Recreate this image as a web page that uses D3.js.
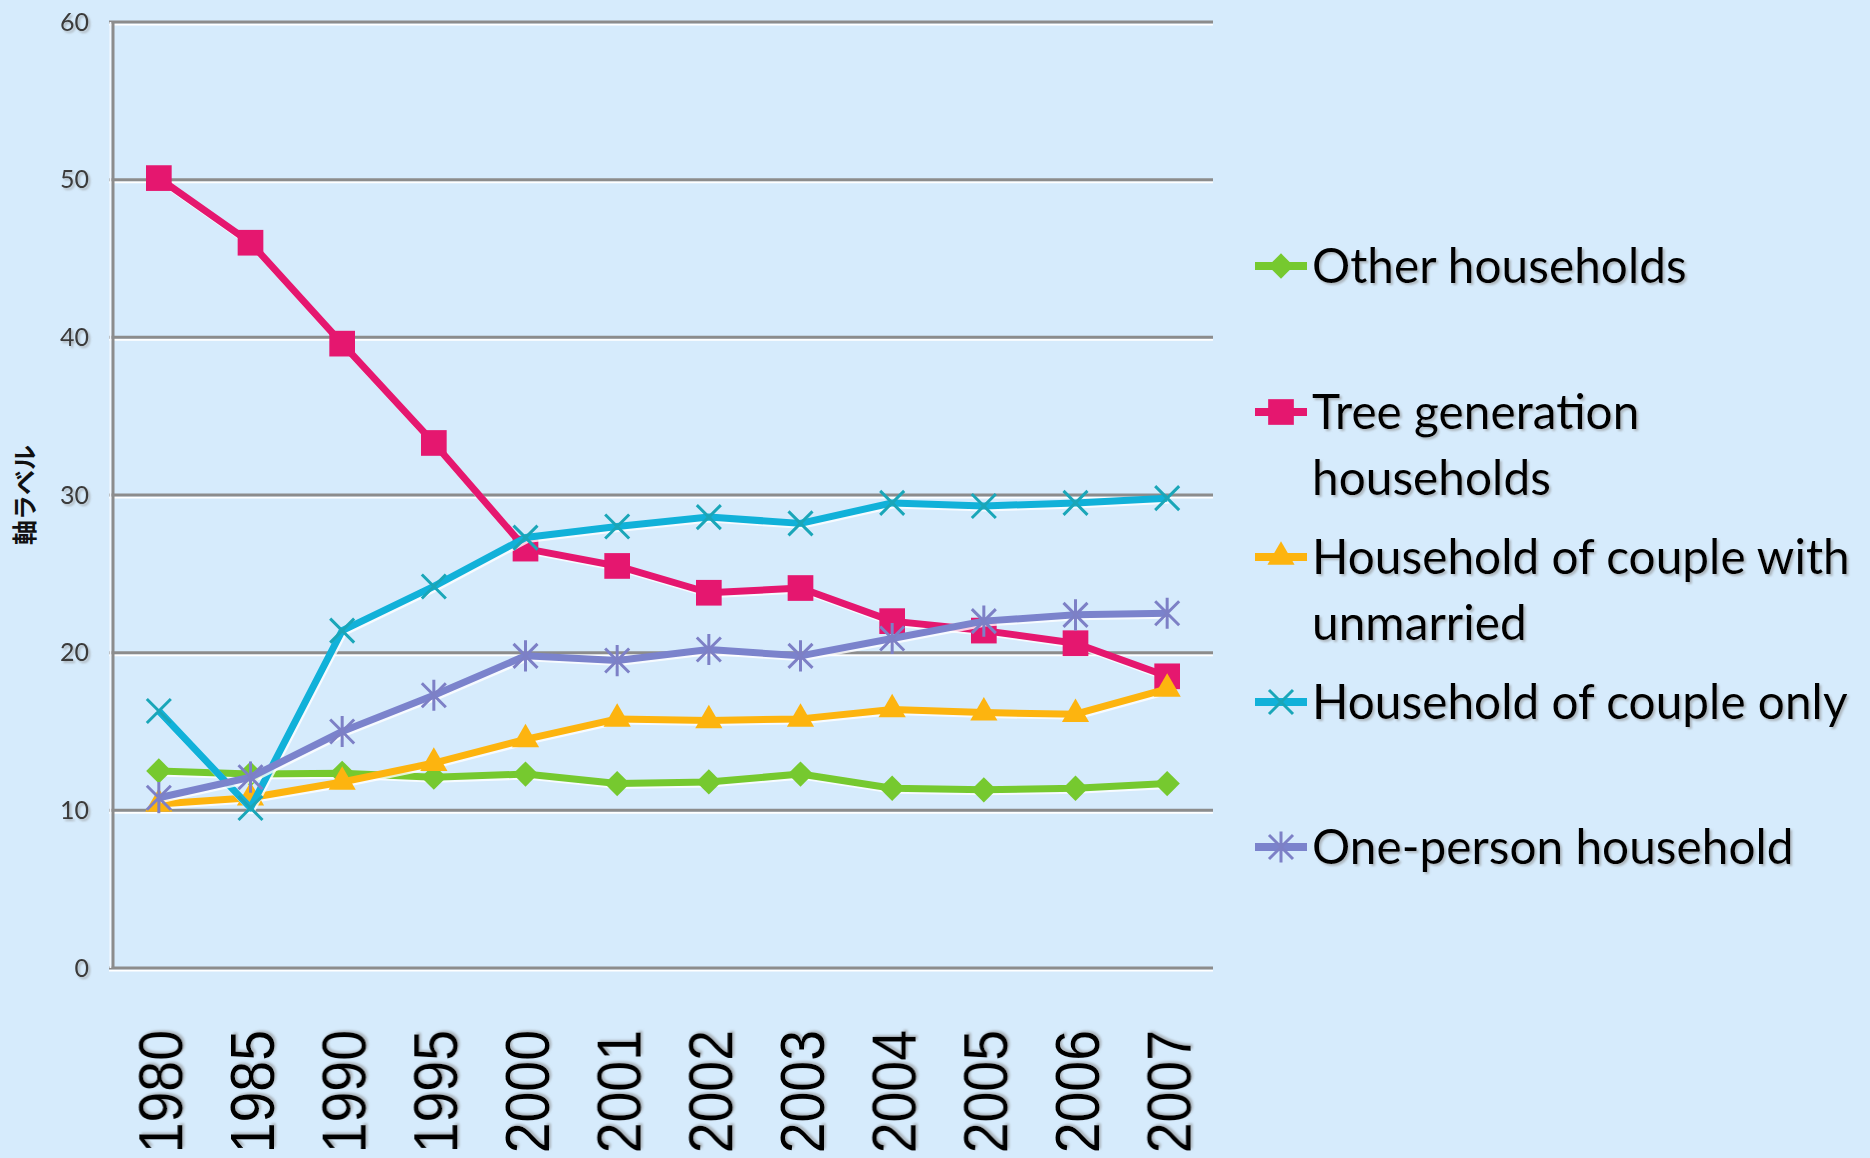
<!DOCTYPE html>
<html>
<head>
<meta charset="utf-8">
<script src="https://cdn.jsdelivr.net/npm/d3@7"></script>
<style>
    html, body { margin: 0; padding: 0; background: #d6ebfc; }
    svg { display: block; }
</style>
</head>
<body>
<div id="chart"></div>
<script>
// Household composition chart - share of households by type, 1980-2007

const years = ["1980", "1985", "1990", "1995", "2000", "2001", "2002", "2003", "2004", "2005", "2006", "2007"];
const yTicks = [0, 10, 20, 30, 40, 50, 60];

const otherHouseholds = [12.5, 12.3, 12.35, 12.1, 12.3, 11.7, 11.8, 12.3, 11.4, 11.3, 11.4, 11.7];
const threeGeneration = [50.1, 46.0, 39.6, 33.3, 26.6, 25.5, 23.8, 24.1, 22.0, 21.4, 20.6, 18.5];
const coupleWithUnmarried = [10.4, 10.8, 11.8, 13.0, 14.5, 15.8, 15.7, 15.8, 16.4, 16.2, 16.1, 17.7];
const coupleOnly = [16.3, 10.15, 21.4, 24.2, 27.3, 28.0, 28.6, 28.2, 29.5, 29.3, 29.5, 29.8];
const onePerson = [10.8, 12.1, 15.0, 17.3, 19.8, 19.5, 20.2, 19.8, 20.9, 22.0, 22.4, 22.5];

const seriesNames = [
    ["Other households"],
    ["Tree generation", "households"],
    ["Household of couple with", "unmarried"],
    ["Household of couple only"],
    ["One-person household"]
];
const yAxisTitle = "軸ラベル";

// Chart configuration
const CONFIG = {
    width: 1870,
    height: 1158,
    margin: { top: 22, right: 657, bottom: 190, left: 113 },
    get chartWidth() { return this.width - this.margin.left - this.margin.right; },
    get chartHeight() { return this.height - this.margin.top - this.margin.bottom; }
};

const SERIES = [
    { values: otherHouseholds, color: "#76c92f", markerColor: "#76c92f", marker: "diamond" },
    { values: threeGeneration, color: "#e5176f", markerColor: "#e5176f", marker: "square" },
    { values: coupleWithUnmarried, color: "#fdb40f", markerColor: "#fdb40f", marker: "triangle" },
    { values: coupleOnly, color: "#11b1d9", markerColor: "#1aa6b8", marker: "x" },
    { values: onePerson, color: "#7b83cc", markerColor: "#7d80c6", marker: "star" }
];

/**
 * Build the path for one marker, centred on 0,0
 * @param {string} type - Marker type
 * @returns {string} path data
 */
function markerPath(type) {
    if (type === "square") return d3.symbol(d3.symbolSquare, 660)();
    if (type === "triangle") return d3.symbol(d3.symbolTriangle, 320)();
    if (type === "diamond") return d3.symbol(d3.symbolSquare, 320)();
    const r = 12;
    const p = d3.path();
    p.moveTo(-r, -r); p.lineTo(r, r);
    p.moveTo(-r, r); p.lineTo(r, -r);
    if (type === "star") { p.moveTo(0, -r * 1.3); p.lineTo(0, r * 1.3); }
    return p.toString();
}

/**
 * Draw a marker into a group
 */
function drawMarker(g, s, x, y) {
    const filled = s.marker === "square" || s.marker === "triangle" || s.marker === "diamond";
    const m = g.append("path")
        .attr("d", markerPath(s.marker))
        .attr("transform", `translate(${x},${y})` + (s.marker === "diamond" ? " rotate(45)" : ""));
    if (filled) {
        m.attr("fill", s.markerColor);
    } else {
        m.attr("fill", "none")
            .attr("stroke", s.markerColor)
            .attr("stroke-width", 3);
    }
}

function renderChart() {
    const { margin, width, height, chartWidth, chartHeight } = CONFIG;

    const svg = d3.select("#chart")
        .append("svg")
        .attr("width", width)
        .attr("height", height)
        .style("background", "#d6ebfc");

    const defs = svg.append("defs");
    defs.append("filter")
        .attr("id", "textShadow")
        .attr("x", "-10%").attr("y", "-10%")
        .attr("width", "130%").attr("height", "130%")
        .append("feDropShadow")
        .attr("dx", 2).attr("dy", 2)
        .attr("stdDeviation", 1)
        .attr("flood-color", "#8a8a8a")
        .attr("flood-opacity", 0.55);

    const g = svg.append("g")
        .attr("transform", `translate(${margin.left},${margin.top})`);

    // Scales
    const x = d3.scalePoint()
        .domain(years)
        .range([0, chartWidth])
        .padding(0.5);

    const y = d3.scaleLinear()
        .domain([0, 60])
        .range([chartHeight, 0]);

    // Grid lines with a light highlight underneath
    const grid = g.append("g").attr("class", "grid");
    grid.selectAll(".grid-light")
        .data(yTicks)
        .join("line")
        .attr("x1", -4).attr("x2", chartWidth)
        .attr("y1", d => y(d) + 2.5).attr("y2", d => y(d) + 2.5)
        .attr("stroke", "#ffffff")
        .attr("stroke-width", 2);
    grid.selectAll(".grid-line")
        .data(yTicks)
        .join("line")
        .attr("x1", -4).attr("x2", chartWidth)
        .attr("y1", d => y(d)).attr("y2", d => y(d))
        .attr("stroke", "#8c8c8c")
        .attr("stroke-width", 3);

    // Y axis line
    g.append("line")
        .attr("x1", -2.5).attr("x2", -2.5)
        .attr("y1", 0).attr("y2", chartHeight)
        .attr("stroke", "#f4f9ff")
        .attr("stroke-width", 2);
    g.append("line")
        .attr("x1", 0).attr("x2", 0)
        .attr("y1", 0).attr("y2", chartHeight)
        .attr("stroke", "#8c8c8c")
        .attr("stroke-width", 3);

    // Y axis labels
    const yAxis = g.append("g")
        .call(d3.axisLeft(y).tickValues(yTicks).tickSize(0).tickPadding(24));
    yAxis.select(".domain").remove();
    yAxis.selectAll("text")
        .attr("font-family", "Lato, 'Open Sans', sans-serif")
        .attr("font-size", 25)
        .attr("fill", "#3a3a3a")
        .attr("filter", "url(#textShadow)");

    // X axis labels, rotated
    const xAxis = g.append("g")
        .attr("transform", `translate(0,${chartHeight})`)
        .call(d3.axisBottom(x).tickSize(0));
    xAxis.select(".domain").remove();
    xAxis.selectAll("text")
        .attr("font-family", "'Liberation Sans', Arial, sans-serif")
        .attr("font-size", 63)
        .attr("fill", "#000000")
        .attr("text-anchor", "end")
        .attr("x", null).attr("y", null)
        .attr("dy", "0.36em")
        .attr("transform", "translate(0,62) rotate(-90) scale(0.88,1)")
        .attr("filter", "url(#textShadow)");

    // Y axis title
    svg.append("text")
        .attr("transform", `translate(25,${margin.top + y(30)}) rotate(-90)`)
        .attr("text-anchor", "middle")
        .attr("dy", "0.35em")
        .attr("font-family", "'Noto Sans CJK JP', sans-serif")
        .attr("font-weight", "bold")
        .attr("font-size", 25)
        .attr("fill", "#111111")
        .text(yAxisTitle);

    // Series lines
    const line = d3.line()
        .x((d, i) => x(years[i]))
        .y(d => y(d));

    SERIES.forEach(s => {
        g.append("path")
            .datum(s.values)
            .attr("d", line)
            .attr("transform", "translate(1.5,2)")
            .attr("fill", "none")
            .attr("stroke", "#ffffff")
            .attr("stroke-width", 7)
            .attr("stroke-linejoin", "round")
            .attr("opacity", 0.8);
        g.append("path")
            .datum(s.values)
            .attr("d", line)
            .attr("fill", "none")
            .attr("stroke", s.color)
            .attr("stroke-width", 7)
            .attr("stroke-linejoin", "round");
        const mg = g.append("g");
        s.values.forEach((v, i) => drawMarker(mg, s, x(years[i]), y(v)));
    });

    // Legend
    const legendRows = [266, 412, 557, 702, 847];
    const legend = svg.append("g");
    SERIES.forEach((s, i) => {
        const ly = legendRows[i];
        legend.append("line")
            .attr("x1", 1255).attr("x2", 1307)
            .attr("y1", ly).attr("y2", ly)
            .attr("stroke", s.color)
            .attr("stroke-width", 8);
        drawMarker(legend, s, 1281, ly);
        const t = legend.append("text")
            .attr("x", 1312)
            .attr("y", ly)
            .attr("font-family", "Lato, 'Open Sans', sans-serif")
            .attr("font-size", 47.8)
            .attr("fill", "#000000")
            .attr("filter", "url(#textShadow)");
        seriesNames[i].forEach((name, j) => {
            t.append("tspan")
                .attr("x", 1312)
                .attr("dy", j === 0 ? "0.36em" : 66)
                .text(name);
        });
    });
}

renderChart();
</script>
</body>
</html>
